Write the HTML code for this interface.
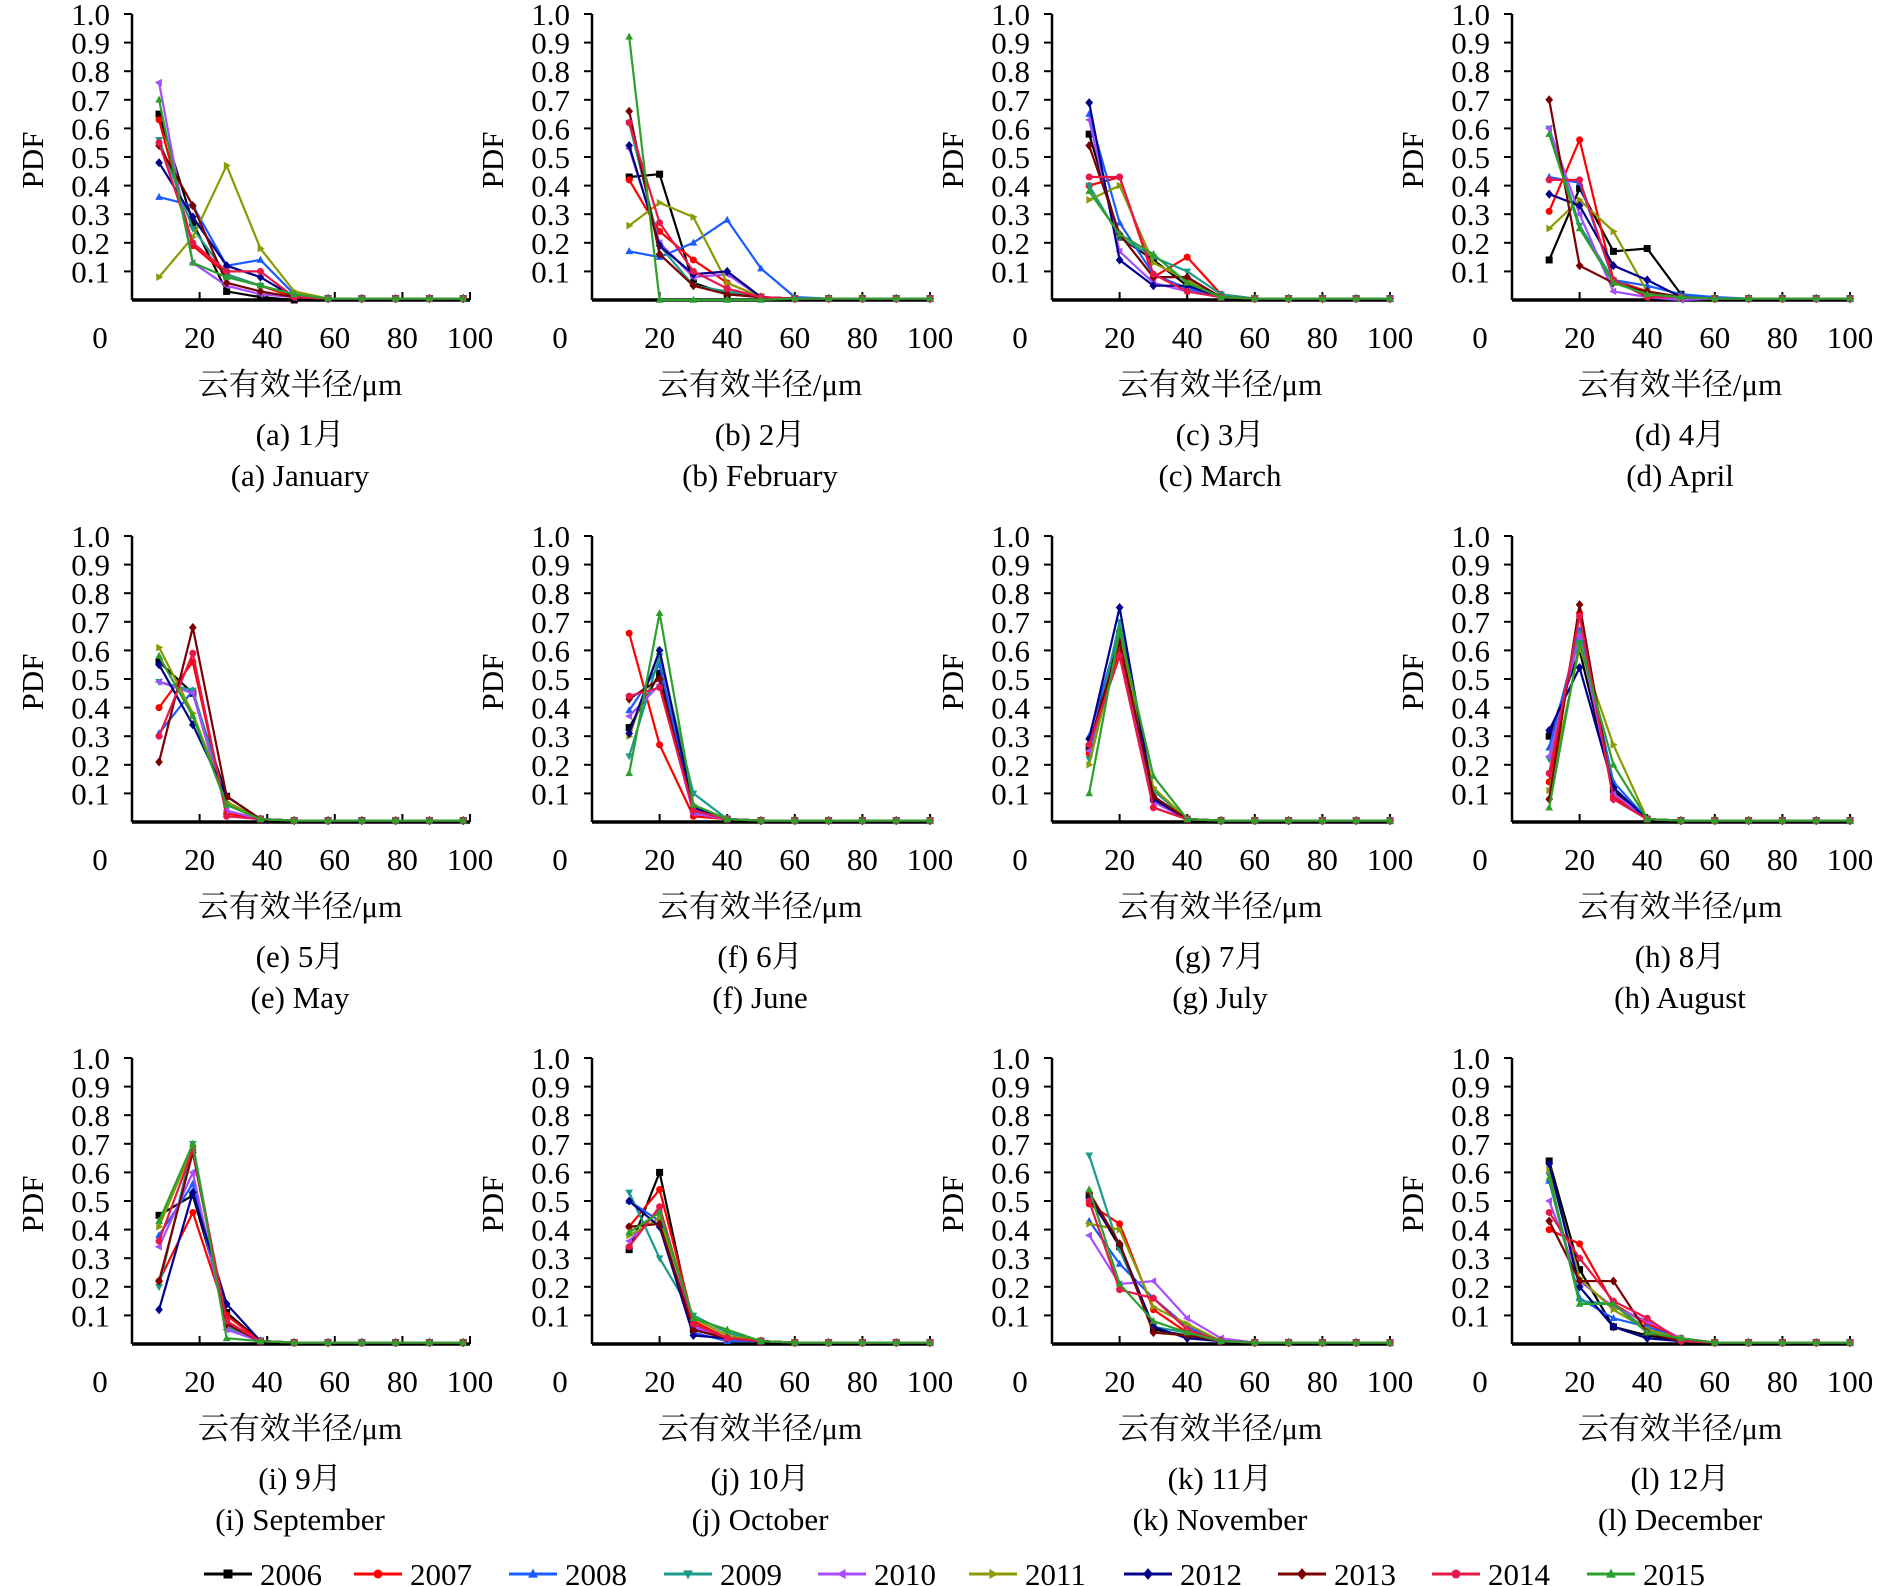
<!DOCTYPE html>
<html><head><meta charset="utf-8"><style>
html,body{margin:0;padding:0;background:#fff;}
svg{display:block;font-family:"Liberation Serif","Noto Serif CJK SC",serif;}
</style></head><body>
<svg id="chart" width="1890" height="1586" viewBox="0 0 1890 1586" xmlns="http://www.w3.org/2000/svg"></svg>
<script>
const years=["2006","2007","2008","2009","2010","2011","2012","2013","2014","2015"];
const colors=["#000000","#ff0000","#1a5cff","#1a9a8a","#a64dff","#8a9a00","#00008b","#7b0000","#e8174a","#2ca02c"];
const markers=["square","circle","tri-up","tri-down","tri-left","tri-right","diamond","diamond","circle","tri-up"];
const monthsCN=["(a) 1月","(b) 2月","(c) 3月","(d) 4月","(e) 5月","(f) 6月","(g) 7月","(h) 8月","(i) 9月","(j) 10月","(k) 11月","(l) 12月"];
const monthsEN=["(a) January","(b) February","(c) March","(d) April","(e) May","(f) June","(g) July","(h) August","(i) September","(j) October","(k) November","(l) December"];
const xTickLabels=["0","20","40","60","80","100"];
const yTickLabels=["0.1","0.2","0.3","0.4","0.5","0.6","0.7","0.8","0.9","1.0"];
const xsA=[8,18,28,38,48,58,68,78,88,98];
const xsB=[11,20,30,40,50,60,70,80,90,100];
const monthX=[xsA,xsB,xsB,xsB,xsA,xsB,xsB,xsB,xsA,xsB,xsB,xsB];
const jan=[[.65,.27,.03,.01,0],[.63,.19,.09,.05,.01],[.36,.33,.12,.14,.02],[.56,.25,.09,.05,.02],[.76,.13,.05,.02,.01],[.08,.22,.47,.18,.03],[.48,.29,.12,.08,.01],[.54,.33,.06,.03,.01],[.55,.20,.10,.10,.01],[.70,.13,.08,.05,.02]];
const feb=[[.43,.44,.06,.02,.01],[.42,.24,.14,.06,.01],[.17,.15,.20,.28,.11,.01],[.62,.19,.05,.03,.01],[.53,.20,.08,.09,.01],[.26,.34,.29,.06,.01],[.54,.19,.09,.10,.01],[.66,.16,.05,.02,.01],[.62,.27,.10,.04,.01],[.92,0,0,0,0]];
const mar=[[.58,.22,.14,.05,.01],[.40,.43,.08,.15,.02],[.65,.27,.09,.04,.01],[.40,.22,.15,.10,.02],[.63,.17,.06,.03,.01],[.35,.40,.13,.07,.01],[.69,.14,.05,.05,.01],[.54,.23,.08,.08,.01],[.43,.43,.09,.03,.01],[.38,.23,.16,.06,.01]];
const apr=[[.14,.39,.17,.18,.02],[.31,.56,.07,.03,.01],[.43,.41,.07,.05,.02,.01],[.60,.26,.07,.02,.01],[.60,.30,.03,.01,0],[.25,.35,.24,.03,.01],[.37,.33,.12,.07,.01],[.70,.12,.06,.03,.01],[.42,.42,.07,.01,.01],[.58,.25,.06,.02,.01]];
const may=[[.56,.45,.09,.01],[.40,.56,.03,.01],[.31,.46,.07,.01],[.49,.46,.06,.01],[.49,.45,.04,.01],[.61,.38,.07,.01],[.55,.34,.09,.01],[.21,.68,.09,.01],[.30,.59,.02,.01],[.58,.37,.06,.01]];
const jun=[[.33,.52,.04,.01],[.66,.27,.02,.01],[.39,.55,.04,.01],[.23,.58,.10,.01],[.37,.48,.03,.01],[.30,.60,.06,.01],[.31,.60,.05,.01],[.43,.50,.04,.01],[.44,.47,.04,.01],[.17,.73,.06,.01]];
const jul=[[.26,.66,.08,.01],[.24,.60,.05,.01],[.30,.67,.09,.01],[.22,.70,.11,.01],[.25,.63,.07,.01],[.20,.64,.12,.01],[.29,.75,.08,.01],[.27,.63,.09,.01],[.27,.58,.05,.01],[.10,.67,.16,.01]];
const aug=[[.30,.60,.11,.01],[.14,.73,.09,.01],[.26,.67,.14,.01],[.22,.66,.12,.01],[.23,.65,.10,.01],[.11,.61,.27,.01],[.32,.54,.12,.01],[.08,.76,.08,.01],[.17,.72,.08,.01],[.05,.63,.20,.01]];
const sep=[[.45,.52,.11,.01],[.22,.46,.10,.01],[.38,.56,.07,.01],[.20,.70,.06,.01],[.34,.60,.05,.01],[.41,.69,.07,.01],[.12,.53,.14,.01],[.22,.67,.07,.01],[.36,.68,.08,.01],[.43,.70,.02,.01]];
const oct=[[.33,.60,.05,.02,.01],[.41,.54,.08,.02,.01],[.50,.43,.04,.01,.01],[.53,.30,.10,.04,.01],[.36,.47,.06,.02,.01],[.38,.44,.09,.03,.01],[.50,.41,.03,.02,.01],[.41,.42,.05,.02,.01],[.34,.48,.07,.02,.01],[.39,.46,.09,.05,.01]];
const nov=[[.52,.34,.05,.03,.01],[.49,.42,.12,.04,.01],[.43,.28,.16,.06,.01],[.66,.33,.06,.04,.01],[.38,.21,.22,.09,.02],[.42,.40,.13,.07,.01],[.51,.35,.06,.02,.01],[.53,.35,.04,.03,.01],[.50,.19,.16,.05,.01],[.54,.21,.08,.04,.01]];
const dec=[[.64,.26,.06,.03,.01],[.40,.35,.14,.07,.02],[.57,.16,.09,.06,.02],[.59,.15,.14,.05,.01],[.50,.22,.13,.08,.02],[.61,.23,.12,.05,.02],[.63,.20,.06,.02,.01],[.43,.22,.22,.04,.01],[.46,.30,.15,.09,.01],[.58,.14,.14,.04,.02]];
const monthData=[jan,feb,mar,apr,may,jun,jul,aug,sep,oct,nov,dec];

const NS="http://www.w3.org/2000/svg";
const svg=document.getElementById('chart');
function mk(tag,attrs,parent){const e=document.createElementNS(NS,tag);for(const k in attrs)e.setAttribute(k,attrs[k]);(parent||svg).appendChild(e);return e;}
function marker(g,type,cx,cy,col,s){
  let e;
  if(type==="square")e=mk('rect',{x:cx-s,y:cy-s,width:2*s,height:2*s,fill:col},g);
  else if(type==="circle")e=mk('circle',{cx:cx,cy:cy,r:s,fill:col},g);
  else{let p;
    if(type==="tri-up")p=[[0,-s*1.2],[s*1.1,s*.8],[-s*1.1,s*.8]];
    else if(type==="tri-down")p=[[0,s*1.2],[s*1.1,-s*.8],[-s*1.1,-s*.8]];
    else if(type==="tri-left")p=[[-s*1.2,0],[s*.8,s*1.1],[s*.8,-s*1.1]];
    else if(type==="tri-right")p=[[s*1.2,0],[-s*.8,s*1.1],[-s*.8,-s*1.1]];
    else p=[[0,-s*1.3],[s*1.1,0],[0,s*1.3],[-s*1.1,0]];
    e=mk('polygon',{points:p.map(q=>(cx+q[0])+','+(cy+q[1])).join(' '),fill:col},g);}
  return e;
}
const W=338,H=286;
for(let m=0;m<12;m++){
  const c=m%4,r=Math.floor(m/4);
  const x0=132+460*c,y0=300+522*r;
  const sx=v=>x0+v/100*W, sy=v=>y0-v*H;
  const g=mk('g',{});
  
  
  const ya=mk('line',{x1:x0,y1:sy(1),x2:x0,y2:y0,stroke:'#000','stroke-width':2.5},g);
  
  const xa=mk('line',{x1:x0,y1:y0,x2:sx(100),y2:y0,stroke:'#000','stroke-width':3.5},g);
  
  yTickLabels.forEach((t,i)=>{const v=parseFloat(t);
    mk('line',{x1:x0-8,y1:sy(v),x2:x0,y2:sy(v),stroke:'#000','stroke-width':2},g);
    const tx=mk('text',{x:x0-22,y:sy(v)+11,'font-size':31,'text-anchor':'end'},g);tx.textContent=t;
    });
  xTickLabels.forEach((t,i)=>{const v=parseFloat(t);
    if(v>0)mk('line',{x1:sx(v),y1:y0,x2:sx(v),y2:y0-8,stroke:'#000','stroke-width':2},g);
    const px=v===0?x0-32:sx(v);
    const tx=mk('text',{x:px,y:y0+48,'font-size':31,'text-anchor':'middle'},g);tx.textContent=t;
    });
  const yl=mk('text',{x:0,y:0,'font-size':31,'text-anchor':'middle',transform:`translate(${x0-89},${y0-140}) rotate(-90)`},g);yl.textContent='PDF';
  
  const xl=mk('text',{x:x0+168,y:y0+95,'font-size':31,'text-anchor':'middle'},g);xl.textContent='云有效半径/μm';
  
  const t1=mk('text',{x:x0+168,y:y0+145,'font-size':31,'text-anchor':'middle'},g);t1.textContent=monthsCN[m];
  
  const t2=mk('text',{x:x0+168,y:y0+186,'font-size':31,'text-anchor':'middle'},g);t2.textContent=monthsEN[m];
  
  const xs=monthX[m];
  monthData[m].forEach((vals,si)=>{
    const full=xs.map((x,i)=>i<vals.length?vals[i]:0.005);
    const sg=mk('g',{},g);
    
    const pl=mk('polyline',{points:full.map((v,i)=>sx(xs[i])+','+sy(v)).join(' '),fill:'none',stroke:colors[si],'stroke-width':2.2},sg);
    
    full.forEach((v,i)=>{const mm=marker(sg,markers[si],sx(xs[i]),sy(v),colors[si],3.5);
      });
  });
}
const lg=mk('g',{});

const legX=[204,354,509,664,818,969,1124,1278,1432,1587];
years.forEach((y,i)=>{
  const e=mk('g',{},lg);
  
  mk('line',{x1:legX[i],y1:1574,x2:legX[i]+48,y2:1574,stroke:colors[i],'stroke-width':3},e);
  marker(e,markers[i],legX[i]+24,1574,colors[i],4.5);
  const t=mk('text',{x:legX[i]+56,y:1585,'font-size':31},e);t.textContent=y;
});
</script>
</body></html>
